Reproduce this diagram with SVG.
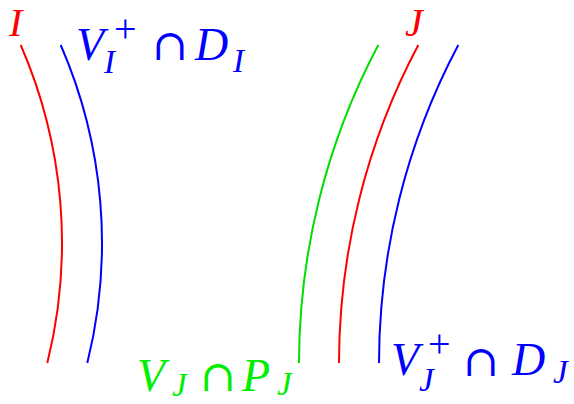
<svg xmlns="http://www.w3.org/2000/svg" width="574" height="404" viewBox="0 0 574 404">
<style>
.c{fill:none;stroke-width:2}
.t{font-family:"Liberation Serif","DejaVu Serif",serif;font-size:46px;font-style:italic}
.s{font-size:33px}
.L{font-size:40px}
.p{font-style:normal;font-size:40px}
.n{font-family:"DejaVu Serif",serif;font-style:normal;font-size:43px}
.red{fill:#ff0000}.blue{fill:#0000ff}.green{fill:#00ee00}
</style>
<rect width="574" height="404" fill="#ffffff"/>
<g id="connectors">
<path id="curve-I" class="c" stroke="#ff0000" d="M20.7,45 A496,496 0 0 1 47.3,363"/>
<path id="curve-VI" class="c" stroke="#0000ff" d="M60.7,45 A496,496 0 0 1 87.3,363"/>
<path id="curve-VJP" class="c" stroke="#00dd00" d="M378.3,45 A680,680 0 0 0 299,363"/>
<path id="curve-J" class="c" stroke="#ff0000" d="M418.3,45 A680,680 0 0 0 339,363"/>
<path id="curve-VJD" class="c" stroke="#0000ff" d="M458.3,45 A680,680 0 0 0 379,363"/>
</g>
<g id="label-I"><text class="t L red" x="9" y="36">I</text></g>
<g id="label-J"><text class="t L red" x="405" y="36">J</text></g>
<g id="label-VI-DI">
<text class="t blue" x="76" y="60">V</text>
<text class="t blue p" x="114" y="42">+</text>
<text class="t blue s" x="104" y="73">I</text>
<text class="t blue n" x="152" y="60">∩</text>
<text class="t blue" x="195" y="60">D</text>
<text class="t blue s" x="233" y="72">I</text>
</g>
<g id="label-VJ-PJ">
<text class="t green" x="137" y="391">V</text>
<text class="t green s" x="172" y="396">J</text>
<text class="t green n" x="200" y="391">∩</text>
<text class="t green" x="242" y="391">P</text>
<text class="t green s" x="277" y="395">J</text>
</g>
<g id="label-VJ-DJ">
<text class="t blue" x="391" y="375">V</text>
<text class="t blue p" x="428" y="357">+</text>
<text class="t blue s" x="419" y="391">J</text>
<text class="t blue n" x="463" y="376">∩</text>
<text class="t blue" x="512" y="375">D</text>
<text class="t blue s" x="553" y="383">J</text>
</g>
</svg>
